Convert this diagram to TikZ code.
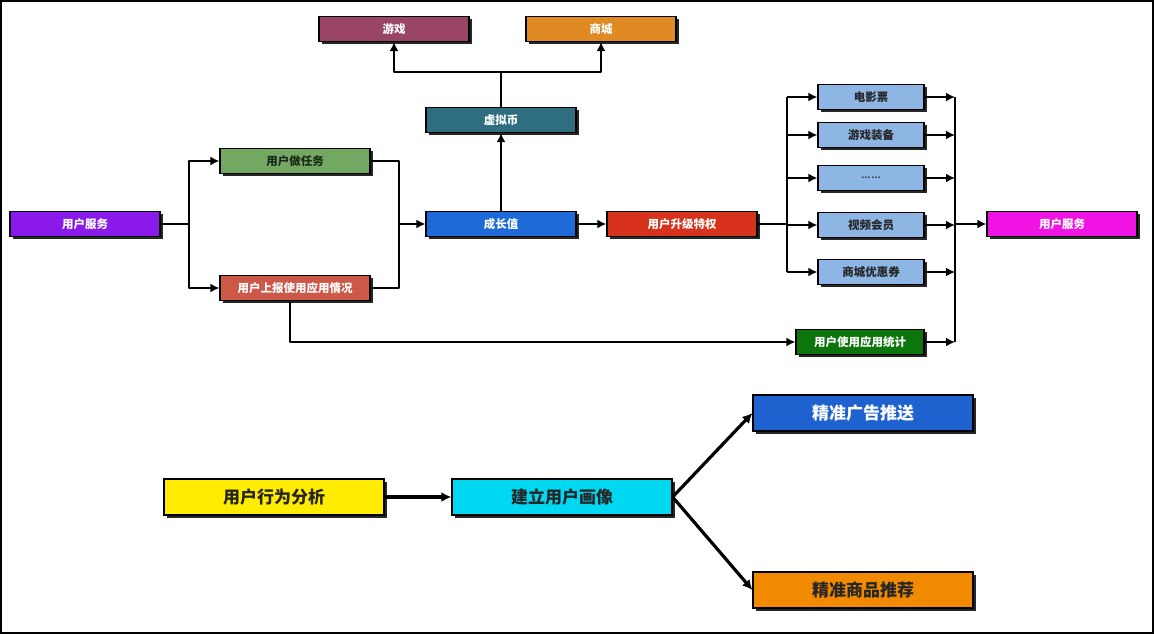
\documentclass[tikz,border=0pt]{standalone}
\usepackage{fontspec}
\newfontfamily\cjk{Noto Sans CJK SC}
\usetikzlibrary{shadows,arrows.meta}
\definecolor{cGame}{HTML}{9A4468}
\definecolor{cShop}{HTML}{E08A24}
\definecolor{cCoin}{HTML}{2F6E80}
\definecolor{cTask}{HTML}{72A862}
\definecolor{cSvc}{HTML}{8A1AEA}
\definecolor{cGrow}{HTML}{1E6AD8}
\definecolor{cUp}{HTML}{D6321C}
\definecolor{cRep}{HTML}{CC5848}
\definecolor{cLb}{HTML}{8EB6E4}
\definecolor{cStat}{HTML}{0C760C}
\definecolor{cMag}{HTML}{F014E4}
\definecolor{cYel}{HTML}{FFEC00}
\definecolor{cCyan}{HTML}{00D8F2}
\definecolor{cAd}{HTML}{1E62D0}
\definecolor{cGoods}{HTML}{F28A00}
\definecolor{txtDark}{HTML}{1A2A1A}
\tikzset{
  box/.style={draw=black, line width=1.2pt, minimum height=25pt, minimum width=150pt,
    inner sep=0pt, font=\cjk\bfseries\fontsize{11.5}{13}\selectfont,
    drop shadow={shadow xshift=2.5pt, shadow yshift=-2.5pt, fill=black!85, opacity=1}},
  bigbox/.style={box, minimum height=36pt, minimum width=220pt, font=\cjk\bfseries\fontsize{17}{20}\selectfont},
  conn/.style={line width=2.6pt, line join=round},
  arr/.style={conn, -{Latex[length=9pt,width=9pt]}},
  bigarr/.style={line width=3.2pt, -{Latex[length=10pt,width=10pt]}}
}
\begin{document}
\begin{tikzpicture}[x=1pt,y=-1pt]
\useasboundingbox (0,0) rectangle (1154,634);
\draw[line width=1.5pt] (1,1) rectangle (1153,633);

% top
\node[box, fill=cGame, text=white] (game) at (394,29) {游戏};
\node[box, fill=cShop, text=white] (shop) at (601,29) {商城};
\node[box, fill=cCoin, text=white] (coin) at (501,120) {虚拟币};
\node[box, fill=cTask, text=txtDark] (task) at (295,161) {用户做任务};
\node[box, fill=cSvc, text=white] (svc) at (85,224) {用户服务};
\node[box, fill=cGrow, text=white] (grow) at (501,224) {成长值};
\node[box, fill=cUp, text=white] (up) at (682,224) {用户升级特权};
\node[box, fill=cRep, text=white] (rep) at (295,288) {用户上报使用应用情况};

\node[box, fill=cLb, text=black!85, minimum width=106pt] (movie) at (871,97) {电影票};
\node[box, fill=cLb, text=black!85, minimum width=106pt] (equip) at (871,135) {游戏装备};
\node[box, fill=cLb, text=black!85, minimum width=106pt] (dots) at (871,178) {\fontsize{8}{9}\selectfont …\,…};
\node[box, fill=cLb, text=black!85, minimum width=106pt] (video) at (871,225) {视频会员};
\node[box, fill=cLb, text=black!85, minimum width=106pt] (coupon) at (871,272) {商城优惠券};
\node[box, fill=cStat, text=white, minimum width=128pt] (stat) at (860,342) {用户使用应用统计};
\node[box, fill=cMag, text=white] (svc2) at (1062,224) {用户服务};

\coordinate (sx) at (189,0);
\coordinate (jx) at (399,0);
\coordinate (tj) at (0,72);
\coordinate (px) at (787,0);
\coordinate (mx) at (955,0);

% left split
\draw[arr] (svc.east) -- (svc.east -| sx) |- (task.west);
\draw[arr] (svc.east -| sx) |- (rep.west);
% join
\draw[conn] (task.east) -| (grow.west -| jx);
\draw[conn] (rep.east) -| (grow.west -| jx);
\draw[arr] (grow.west -| jx) -- (grow.west);
% up
\draw[arr] (grow.north) -- (coin.south);
\draw[conn] (coin.north) -- (coin.north |- tj);
\draw[arr] (coin.north |- tj) -| (game.south);
\draw[arr] (coin.north |- tj) -| (shop.south);
% to upgrade
\draw[arr] (grow.east) -- (up.west);
% split right
\draw[conn] (up.east) -- (up.east -| px);
\draw[conn] (movie.west -| px) -- (coupon.west -| px);
\foreach \n in {movie,equip,dots,video,coupon}
  \draw[arr] (\n.west -| px) -- (\n.west);
% merge
\draw[conn] (movie.east -| mx) -- (stat.east -| mx);
\foreach \n in {movie,equip,dots,video,coupon,stat}
  \draw[arr] (\n.east) -- (\n.east -| mx);
\draw[arr] (svc2.west -| mx) -- (svc2.west);
% report to stat
\coordinate (rb) at ([xshift=-5pt]rep.south);
\draw[arr] (rb) -- (rb |- stat) -- (stat.west);

% bottom
\node[bigbox, fill=cYel, text=black!85] (beh) at (274,497) {用户行为分析};
\node[bigbox, fill=cCyan, text=black!85] (port) at (562,497) {建立用户画像};
\node[bigbox, fill=cAd, text=white] (ad) at (863,413) {精准广告推送};
\node[bigbox, fill=cGoods, text=black!85] (goods) at (863,590) {精准商品推荐};
\draw[bigarr] (beh.east) -- (port.west);
\draw[bigarr] (port.east) -- (ad.west);
\draw[bigarr] (port.east) -- (goods.west);
\end{tikzpicture}
\end{document}
